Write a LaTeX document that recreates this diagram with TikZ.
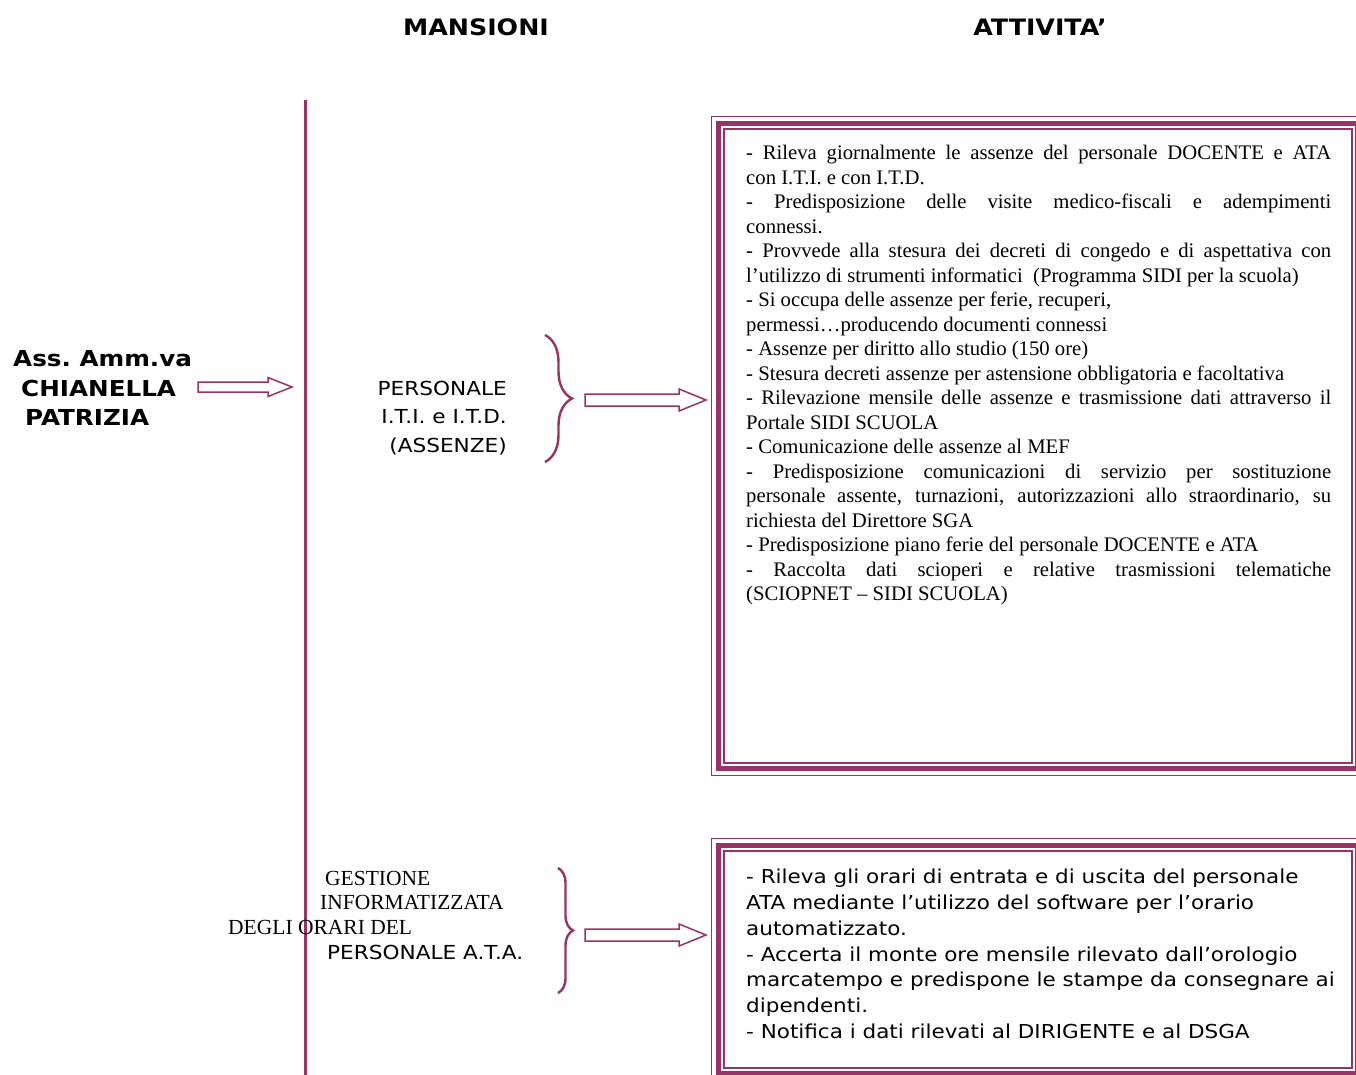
\documentclass[tikz,border=0pt]{standalone}
\usepackage{fontspec}
\setmainfont{Liberation Serif}
\newfontfamily\verd[FakeStretch=1.12]{DejaVu Sans}
\usetikzlibrary{positioning,calc,fit,decorations.pathreplacing}
\definecolor{plumline}{RGB}{153,51,102}
\newcommand{\blockarrow}[5]{%
  \draw[blk] ($(#1)+(0,-#3)$) -- ($(#2)+(-#5,-#3)$) -- ($(#2)+(-#5,-#4)$) -- (#2)
    -- ($(#2)+(-#5,#4)$) -- ($(#2)+(-#5,#3)$) -- ($(#1)+(0,#3)$) -- cycle;}

\begin{document}
\begin{tikzpicture}[x=1pt,y=-1pt,
    blk/.style={draw=plumline,fill=white,line width=1.5pt,line join=miter},
    head/.style={font=\verd\bfseries\fontsize{22.6}{29.5}\selectfont,inner sep=0pt},
    lbl/.style={font=\verd\fontsize{19.3}{28.5}\selectfont,inner sep=0pt},
    tm/.style={font=\fontsize{20.7}{24.5}\selectfont,inner sep=0pt},
    tmlbl/.style={font=\fontsize{21.5}{24.5}\selectfont,inner sep=0pt,anchor=base west},
    inframe/.style={draw=plumline,line width=1.8pt,outer sep=0pt,inner sep=0pt},
    midframe/.style={draw=plumline,line width=5pt,inner sep=5.5pt},
    outframe/.style={draw=plumline,line width=1.5pt,inner sep=12.5pt},
    brc/.style={draw=plumline,line width=2.4pt,decorate,decoration={brace,amplitude=#1}},
    vline/.style={draw=plumline,line width=3pt}]
  \useasboundingbox (0,0) rectangle (1356,1075);
  \clip (0,0) rectangle (1356,1075);

  \node[head] (mans)  at (476,27)  {MANSIONI};
  \node[head] (attiv) at (1040,27) {ATTIVITA’};

  \node[head,font=\verd\bfseries\fontsize{22}{29.5}\selectfont,align=left,anchor=west] (ass) at (13,388)
    {Ass.\ Amm.va\\\hspace*{8pt}CHIANELLA\\\hspace*{12pt}PATRIZIA};

  \coordinate (vtop) at (305,100);
  \coordinate (vbot) at (305,1080);
  \draw[vline] (vtop) -- (vbot);

  \node[lbl,align=right,anchor=east] (pers) at (507,418)
    {PERSONALE\\I.T.I. e I.T.D.\\(ASSENZE)};

  \node[tmlbl] (g1) at (325,885) {GESTIONE};
  \node[tmlbl] (g2) at (320,909) {INFORMATIZZATA};
  \node[tmlbl] (g3) at (228,934) {DEGLI ORARI DEL};
  \node[lbl,anchor=base west] (g4) at (327,959) {PERSONALE A.T.A.};

  \coordinate (b1t) at (545,335);
  \coordinate (b1b) at (545,462);
  \draw[brc=27pt] (b1t) -- (b1b);
  \coordinate (b2t) at (558,868);
  \coordinate (b2b) at (558,993);
  \draw[brc=15pt] (b2t) -- (b2b);

  \node[inframe,minimum width=628pt,minimum height=634pt,anchor=north west] (box1) at (724,129) {};
  \node[midframe,fit=(box1)] (box1mid) {};
  \node[outframe,fit=(box1)] (box1out) {};
  \node[inframe,minimum width=628pt,minimum height=217pt,anchor=north west] (box2) at (724,851) {};
  \node[midframe,fit=(box2)] (box2mid) {};
  \node[outframe,fit=(box2)] (box2out) {};

  \coordinate (a1s) at (198,387);
  \coordinate (a1e) at (292,387);
  \blockarrow{a1s}{a1e}{5}{9.5}{24}
  \coordinate (a2s) at (585,400);
  \coordinate (a2e) at (706,400);
  \blockarrow{a2s}{a2e}{6}{11}{27}
  \coordinate (a3s) at (585,935);
  \coordinate (a3e) at (706,935);
  \blockarrow{a3s}{a3e}{6}{11}{27}

  \node[tm,anchor=north west,text width=585pt,align=justify] (txt1) at (746,145) {\parindent=0pt\hyphenpenalty=10000
    - Rileva giornalmente le assenze del personale DOCENTE e ATA \linebreak con I.T.I. e con I.T.D.\par
    - Predisposizione delle visite medico-fiscali e adempimenti \linebreak connessi.\par
    - Provvede alla stesura dei decreti di congedo e di aspettativa con \linebreak l’utilizzo di strumenti informatici\ \ (Programma SIDI per la scuola)\par
    - Si occupa delle assenze per ferie, recuperi,\newline permessi…producendo documenti connessi\par
    - Assenze per diritto allo studio (150 ore)\par
    - Stesura decreti assenze per astensione obbligatoria e facoltativa\par
    - Rilevazione mensile delle assenze e trasmissione dati attraverso il \linebreak Portale SIDI SCUOLA\par
    - Comunicazione delle assenze al MEF\par
    - Predisposizione comunicazioni di servizio per sostituzione \linebreak personale assente, turnazioni, autorizzazioni allo straordinario, su \linebreak richiesta del Direttore SGA\par
    - Predisposizione piano ferie del personale DOCENTE e ATA\par
    - Raccolta dati scioperi e relative trasmissioni telematiche \linebreak (SCIOPNET – SIDI SCUOLA)};

  \node[font=\verd\fontsize{19.2}{25.8}\selectfont,inner sep=0pt,align=left,anchor=north west] (txt2) at (746,869)
    {- Rileva gli orari di entrata e di uscita del personale\\
     ATA mediante l’utilizzo del software per l’orario\\
     automatizzato.\\
     - Accerta il monte ore mensile rilevato dall’orologio\\
     marcatempo e predispone le stampe da consegnare ai\\
     dipendenti.\\
     - Notifica i dati rilevati al DIRIGENTE e al DSGA};
\end{tikzpicture}
\end{document}
